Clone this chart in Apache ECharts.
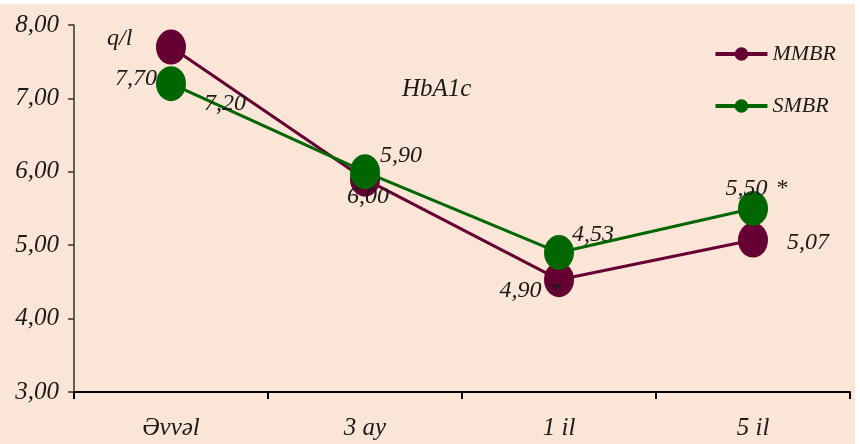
<!DOCTYPE html>
<html>
<head>
<meta charset="utf-8">
<script src="https://cdn.jsdelivr.net/npm/echarts@6/dist/echarts.min.js"></script>
<style>
html,body{margin:0;padding:0;background:#ffffff;}
#chart{position:absolute;left:0;top:4px;width:855px;height:440px;background:#FBE5D6;}
</style>
</head>
<body>
<div id="chart"></div>
<script>
// ---- data ----
var categories = ['Əvvəl', '3 ay', '1 il', '5 il'];
var seriesNames = ['MMBR', 'SMBR'];
var mmbr = [7.70, 5.90, 4.53, 5.07];
var smbr = [7.20, 6.00, 4.90, 5.50];
var mmbrStar = [false, false, false, false];
var smbrStar = [false, false, true, true];
var yTicks = [3, 4, 5, 6, 7, 8];
var unitText = 'q/l';
var titleText = 'HbA1c';

// ---- label placement (pixel offsets from each marker) ----
var mmbrOffsets = [[-35, 32], [36, -23], [34, -45], [55, 3]];
var smbrOffsets = [[54, 20], [3, 25], [-28, 38], [4, -20]];

var FONT = 'Liberation Serif';
var fmt = function (v) { return v.toFixed(2).replace('.', ','); };
var ellipse = 'path://M0,-1A1,1,0,1,1,0,1A1,1,0,1,1,0,-1Z';

function buildData(values, offsets, stars) {
  return values.map(function (v, i) {
    return {
      value: v,
      label: {
        show: true,
        position: 'inside',
        offset: offsets[i],
        fontFamily: FONT, fontStyle: 'italic', fontSize: 24, color: '#1a1a1a',
        textBorderWidth: 0, textBorderColor: 'transparent',
        formatter: stars[i] ? '{v|' + fmt(v) + '}{g|}{s|*}' : fmt(v),
        rich: {
          v: { fontFamily: FONT, fontStyle: 'italic', fontSize: 24, color: '#1a1a1a' },
          g: { width: 9 },
          s: { fontFamily: FONT, fontStyle: 'normal', fontSize: 24, color: '#1a1a1a' }
        }
      }
    };
  });
}

var chart = echarts.init(document.getElementById('chart'), null, { renderer: 'canvas' });
chart.setOption({
  backgroundColor: 'transparent',
  animation: false,
  textStyle: { fontFamily: FONT, fontStyle: 'italic', color: '#1a1a1a' },
  title: [
    { text: unitText, left: 102, top: 18,
      textStyle: { fontFamily: FONT, fontStyle: 'italic', fontWeight: 'normal', fontSize: 24, color: '#1a1a1a' } },
    { text: titleText, left: 397, top: 68,
      textStyle: { fontFamily: FONT, fontStyle: 'italic', fontWeight: 'normal', fontSize: 25, color: '#1a1a1a' } }
  ],
  legend: {
    orient: 'vertical',
    right: 14,
    top: 34,
    itemWidth: 52,
    itemHeight: 17,
    itemGap: 30,
    data: seriesNames,
    lineStyle: { width: 4 },
    textStyle: { fontFamily: FONT, fontStyle: 'italic', fontSize: 22, color: '#1a1a1a' }
  },
  grid: { left: 74, right: 5, top: 21, bottom: 52, containLabel: false },
  xAxis: {
    type: 'category',
    data: categories,
    boundaryGap: true,
    axisLine: { lineStyle: { color: '#000000', width: 2 } },
    axisTick: { show: true, length: 7, lineStyle: { color: '#000000', width: 2 } },
    axisLabel: { margin: 24, fontFamily: FONT, fontStyle: 'italic', fontSize: 25, color: '#1a1a1a' },
    splitLine: { show: false }
  },
  yAxis: {
    type: 'value',
    min: yTicks[0],
    max: yTicks[yTicks.length - 1],
    interval: 1,
    axisLine: { show: true, lineStyle: { color: '#333333', width: 1.5 } },
    axisTick: { show: true, length: 6, lineStyle: { color: '#333333', width: 1.5 } },
    axisLabel: { margin: 15, fontFamily: FONT, fontStyle: 'italic', fontSize: 25, color: '#1a1a1a', formatter: fmt },
    splitLine: { show: false }
  },
  series: [
    {
      name: seriesNames[0], type: 'line',
      data: buildData(mmbr, mmbrOffsets, mmbrStar),
      symbol: ellipse, symbolSize: [30, 35], symbolKeepAspect: false,
      lineStyle: { color: '#660033', width: 3 },
      itemStyle: { color: '#660033' },
      z: 2
    },
    {
      name: seriesNames[1], type: 'line',
      data: buildData(smbr, smbrOffsets, smbrStar),
      symbol: ellipse, symbolSize: [30, 35], symbolKeepAspect: false,
      lineStyle: { color: '#006600', width: 3 },
      itemStyle: { color: '#006600' },
      z: 3
    }
  ]
});
</script>
</body>
</html>
